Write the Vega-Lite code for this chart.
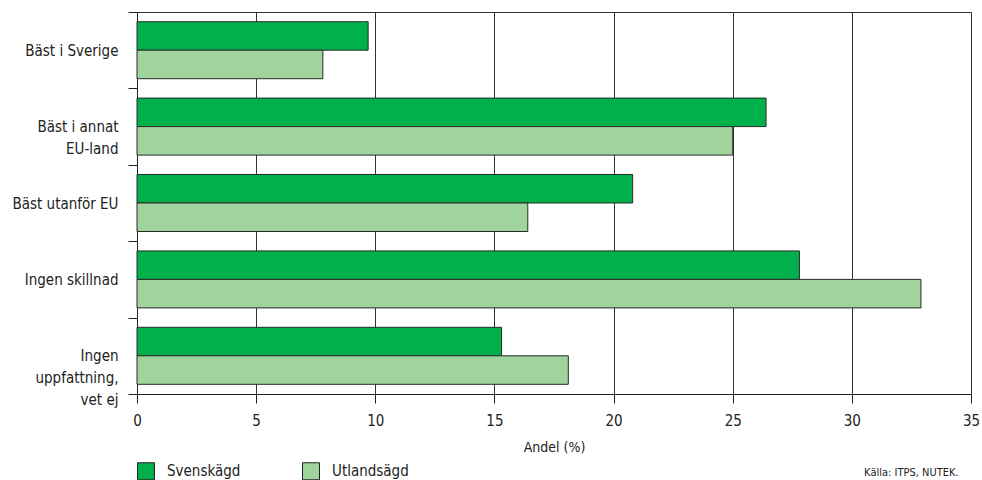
{
  "$schema": "https://vega.github.io/schema/vega-lite/v6.json",
  "width": 834,
  "height": 382,
  "autosize": {"type": "none"},
  "padding": {"left": 137, "top": 12, "right": 11, "bottom": 86},
  "background": "white",
  "config": {
    "font": "DejaVu Sans Condensed, Roboto, sans-serif",
    "view": {"stroke": "#333", "strokeWidth": 1},
    "axis": {"labelColor": "#222", "titleColor": "#222", "domainColor": "#222", "tickColor": "#222", "labelFont": "DejaVu Sans Condensed, Roboto, sans-serif", "titleFont": "DejaVu Sans Condensed, Roboto, sans-serif"},
    "legend": {"labelFont": "DejaVu Sans Condensed, Roboto, sans-serif"},
    "title": {"font": "DejaVu Sans Condensed, Roboto, sans-serif"}
  },
  "data": {
    "values": [
      {"kategori": "Bäst i Sverige", "agare": "Svenskägd", "andel": 9.7},
      {"kategori": "Bäst i Sverige", "agare": "Utlandsägd", "andel": 7.8},
      {"kategori": "Bäst i annat|EU-land", "agare": "Svenskägd", "andel": 26.4},
      {"kategori": "Bäst i annat|EU-land", "agare": "Utlandsägd", "andel": 25.0},
      {"kategori": "Bäst utanför EU", "agare": "Svenskägd", "andel": 20.8},
      {"kategori": "Bäst utanför EU", "agare": "Utlandsägd", "andel": 16.4},
      {"kategori": "Ingen skillnad", "agare": "Svenskägd", "andel": 27.8},
      {"kategori": "Ingen skillnad", "agare": "Utlandsägd", "andel": 32.9},
      {"kategori": "Ingen|uppfattning,|vet ej", "agare": "Svenskägd", "andel": 15.3},
      {"kategori": "Ingen|uppfattning,|vet ej", "agare": "Utlandsägd", "andel": 18.1}
    ]
  },
  "mark": {"type": "bar", "stroke": "#2a2a2a", "strokeWidth": 1},
  "encoding": {
    "y": {
      "field": "kategori",
      "type": "nominal",
      "sort": null,
      "scale": {"paddingInner": 0, "paddingOuter": 0},
      "axis": {
        "title": null,
        "tickBand": "extent",
        "tickSize": 9,
        "labelPadding": 10,
        "labelExpr": "split(datum.label, '|')",
        "labelFontSize": 15,
        "labelLineHeight": 22,
        "labelLimit": 200
      }
    },
    "yOffset": {
      "field": "agare",
      "type": "nominal",
      "sort": ["Svenskägd", "Utlandsägd"],
      "scale": {"paddingInner": 0, "paddingOuter": 0.34}
    },
    "x": {
      "field": "andel",
      "type": "quantitative",
      "scale": {"domain": [0, 35], "nice": false},
      "axis": {
        "title": "Andel (%)",
        "values": [0, 5, 10, 15, 20, 25, 30, 35],
        "grid": true,
        "gridColor": "#333",
        "gridOpacity": 1,
        "tickSize": 9,
        "labelPadding": 10,
        "labelFlush": false,
        "labelFontSize": 15,
        "titleFontSize": 14,
        "titleFontWeight": "normal",
        "titlePadding": 12
      }
    },
    "color": {
      "field": "agare",
      "type": "nominal",
      "scale": {"domain": ["Svenskägd", "Utlandsägd"], "range": ["#00b04a", "#9fd49d"]},
      "legend": {
        "title": null,
        "orient": "bottom",
        "direction": "horizontal",
        "symbolType": "square",
        "symbolSize": 289,
        "symbolStrokeColor": "#222",
        "symbolStrokeWidth": 1,
        "symbolOpacity": 1,
        "labelFontSize": 15,
        "labelColor": "#222",
        "labelOffset": 12,
        "gridAlign": "all",
        "columnPadding": 56,
        "offset": 8
      }
    }
  },
  "title": {
    "text": "Källa: ITPS, NUTEK.",
    "orient": "bottom",
    "anchor": "end",
    "fontSize": 11,
    "fontWeight": "normal",
    "color": "#222",
    "dx": -21,
    "offset": -15
  }
}
